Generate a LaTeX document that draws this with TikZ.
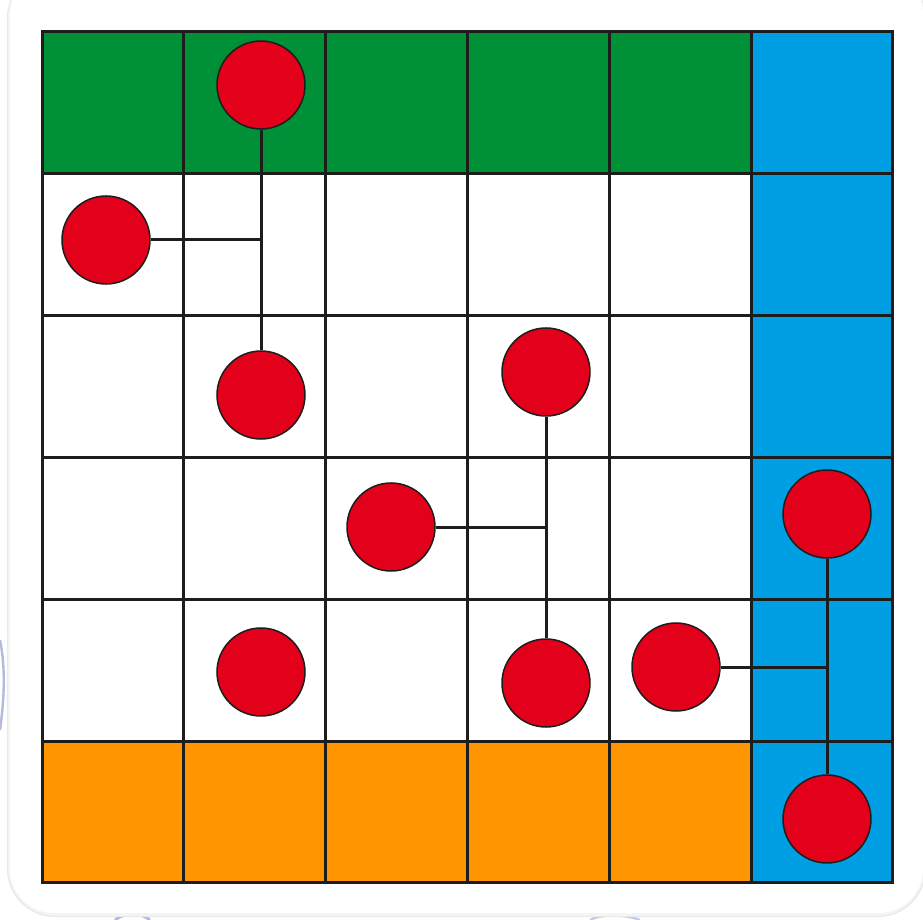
\documentclass[tikz,border=0pt]{standalone}
\usetikzlibrary{calc}
\definecolor{gridline}{HTML}{1D1D1B}
\definecolor{cgreen}{HTML}{009138}
\definecolor{cblue}{HTML}{009FE3}
\definecolor{corange}{HTML}{FF9500}
\definecolor{cred}{HTML}{E2001A}
\definecolor{swirl}{HTML}{5A62B8}
\tikzset{
  dot/.style={circle, fill=cred, draw=gridline, line width=0.75pt, minimum size=44pt, inner sep=0pt},
  link/.style={draw=gridline, line width=1.5pt},
  gridstroke/.style={draw=gridline, line width=1.5pt},
}
\begin{document}
\begin{tikzpicture}[x=0.5pt, y=-0.5pt]
\useasboundingbox (0,0) rectangle (923,920);
% faint background swirls
\draw[swirl!45, line width=1.2pt] (0,640) .. controls (6,670) and (4,700) .. (0,730);
\draw[swirl!45, line width=1.5pt] (115,920) .. controls (125,912) and (140,912) .. (150,920);
\draw[swirl!35, line width=1.2pt] (590,920) .. controls (600,914) and (625,914) .. (640,920);
% card shadow and card
\fill[gray!18, rounded corners=24] (7,-30) rectangle (926,917);
\fill[gray!9, rounded corners=24] (8,-30) rectangle (925,916);
\fill[white, rounded corners=22] (10,-30) rectangle (923,913);
% cells
\def\xa{42}\def\cs{141.83}\def\ya{32}
\fill[white] (\xa,\ya) rectangle ({\xa+6*\cs},{\ya+6*\cs});
\fill[cgreen] (\xa,\ya) rectangle ({\xa+5*\cs},{\ya+\cs});
\fill[corange] (\xa,{\ya+5*\cs}) rectangle ({\xa+5*\cs},{\ya+6*\cs});
\fill[cblue] ({\xa+5*\cs},\ya) rectangle ({\xa+6*\cs},{\ya+6*\cs});
\foreach \i in {0,...,6} {
  \draw[gridstroke] ({\xa+\i*\cs},\ya) -- ({\xa+\i*\cs},{\ya+6*\cs});
  \draw[gridstroke] (\xa,{\ya+\i*\cs}) -- ({\xa+6*\cs},{\ya+\i*\cs});
}
\draw[gridstroke, line cap=rect] (\xa,\ya) rectangle ({\xa+6*\cs},{\ya+6*\cs});
% circles
\node[dot] (c1) at (261,85) {};
\node[dot] (c2) at (106,240) {};
\node[dot] (c3) at (261,395) {};
\node[dot] (c4) at (546,372) {};
\node[dot] (c5) at (391,527) {};
\node[dot] (c6) at (827,514) {};
\node[dot] (c7) at (261,672) {};
\node[dot] (c8) at (546,683) {};
\node[dot] (c9) at (676,667) {};
\node[dot] (c10) at (827,819) {};
% connectors
\draw[link] (c1.south) -- (c3.north);
\draw[link] (c2.east) -- (c2.east -| c1.center);
\draw[link] (c4.south) -- (c8.north);
\draw[link] (c5.east) -- (c5.east -| c4.center);
\draw[link] (c6.south) -- (c10.north);
\draw[link] (c9.east) -- (c9.east -| c6.center);
\end{tikzpicture}
\end{document}
